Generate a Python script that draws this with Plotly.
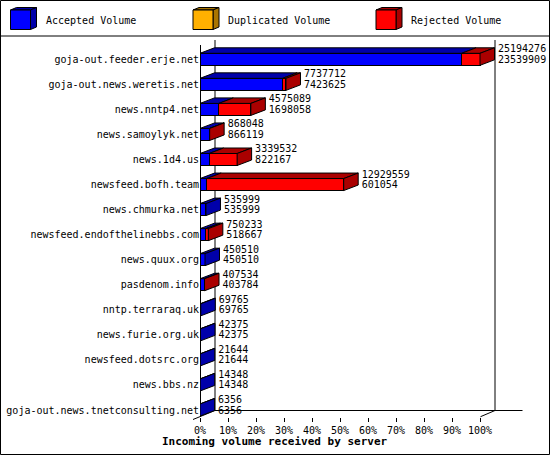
import plotly.graph_objects as go

# innreport-style chart: incoming volume per server
servers = [
    "goja-out.feeder.erje.net", "goja-out.news.weretis.net", "news.nntp4.net",
    "news.samoylyk.net", "news.1d4.us", "newsfeed.bofh.team", "news.chmurka.net",
    "newsfeed.endofthelinebbs.com", "news.quux.org", "pasdenom.info",
    "nntp.terraraq.uk", "news.furie.org.uk", "newsfeed.dotsrc.org", "news.bbs.nz",
    "goja-out.news.tnetconsulting.net",
]
total_volume = [25194276, 7737712, 4575089, 868048, 3339532, 12929559, 535999,
                750233, 450510, 407534, 69765, 42375, 21644, 14348, 6356]
accepted_volume = [23539909, 7423625, 1698058, 866119, 822167, 601054, 535999,
                   518667, 450510, 403784, 69765, 42375, 21644, 14348, 6356]
tick_labels = ["0%", "10%", "20%", "30%", "40%", "50%", "60%", "70%", "80%", "90%", "100%"]
legend_names = ["Accepted Volume", "Duplicated Volume", "Rejected Volume"]

rejected_volume = [t - a for t, a in zip(total_volume, accepted_volume)]

BLUE, DBLUE = "#0000ff", "#0000aa"
ORANGE, DORANGE = "#ffb000", "#aa7500"
RED, DRED = "#ff0000", "#aa0000"
FONT = "DejaVu Sans Mono"

W, H = 550, 455
L, R, T, B = 200, 525, 37, 417
VMAX = max(total_volume)
PX_PER_VAL = 280 / VMAX
ROW0, ROWH = 59.3, 25.05
DX = 14.5 / PX_PER_VAL      # depth in data units
DY = 5.5 / ROWH             # depth in row units
HALF = 6 / ROWH

rows = list(range(len(servers)))


def pxx(px):
    return (px - L) / (R - L)


def pyy(py):
    return (B - py) / (B - T)


def top_faces(starts, ends):
    xs, ys = [], []
    for r, (x0, x1) in enumerate(zip(starts, ends)):
        if x1 <= x0:
            continue
        top = r - HALF
        xs += [x0, x1, x1 + DX, x0 + DX, x0, None]
        ys += [top, top, top - DY, top - DY, top, None]
    return xs, ys


def side_faces(ends, keep):
    xs, ys = [], []
    for r, (x1, k) in enumerate(zip(ends, keep)):
        if not k:
            continue
        top, bot = r - HALF, r + HALF
        xs += [x1, x1 + DX, x1 + DX, x1, x1, None]
        ys += [top, top - DY, bot - DY, bot, top, None]
    return xs, ys


fig = go.Figure()

fig.add_trace(go.Bar(y=rows, x=accepted_volume, orientation="h", width=2 * HALF,
                     marker=dict(color=BLUE, line=dict(color="black", width=1))))
fig.add_trace(go.Bar(y=rows, x=rejected_volume, orientation="h", width=2 * HALF,
                     marker=dict(color=RED, line=dict(color="black", width=1))))

face_style = dict(mode="lines", fill="toself", line=dict(color="black", width=1),
                  hoverinfo="skip")
bx, by = top_faces([0] * len(rows), accepted_volume)
fig.add_trace(go.Scatter(x=bx, y=by, fillcolor=DBLUE, **face_style))
rx, ry = top_faces(accepted_volume, total_volume)
fig.add_trace(go.Scatter(x=rx, y=ry, fillcolor=DRED, **face_style))
sx, sy = side_faces(total_volume, [r == 0 for r in rejected_volume])
fig.add_trace(go.Scatter(x=sx, y=sy, fillcolor=DBLUE, **face_style))
sx, sy = side_faces(total_volume, [r > 0 for r in rejected_volume])
fig.add_trace(go.Scatter(x=sx, y=sy, fillcolor=DRED, **face_style))

label_x = [t + DX + 3.5 / PX_PER_VAL for t in total_volume]
fig.add_trace(go.Scatter(x=label_x, y=[r - 0.38 for r in rows], mode="text",
                         text=[str(v) for v in total_volume], textposition="middle right",
                         textfont=dict(family=FONT, size=10, color="black"),
                         cliponaxis=False, hoverinfo="skip"))
fig.add_trace(go.Scatter(x=label_x, y=[r + 0.04 for r in rows], mode="text",
                         text=[str(v) for v in accepted_volume], textposition="middle right",
                         textfont=dict(family=FONT, size=10, color="black"),
                         cliponaxis=False, hoverinfo="skip"))

# walls and floor of the 3D frame
line = dict(color="black", width=1)
shapes = [
    dict(type="line", xref="paper", yref="paper", x0=pxx(200.5), y0=pyy(45), x1=pxx(200.5), y1=pyy(416.7), line=line, layer="below"),
    dict(type="line", xref="paper", yref="paper", x0=pxx(215), y0=pyy(40), x1=pxx(215), y1=pyy(410.5), line=line, layer="below"),
    dict(type="line", xref="paper", yref="paper", x0=pxx(495), y0=pyy(40), x1=pxx(495), y1=pyy(410.5), line=line, layer="below"),
    dict(type="line", xref="paper", yref="paper", x0=pxx(215), y0=pyy(410.5), x1=pxx(522.5), y1=pyy(410.5), line=line, layer="below"),
    dict(type="line", xref="paper", yref="paper", x0=pxx(193), y0=pyy(419.5), x1=pxx(215), y1=pyy(410.5), line=line, layer="below"),
    dict(type="line", xref="paper", yref="paper", x0=pxx(480.5), y0=pyy(416.7), x1=pxx(495), y1=pyy(410.5), line=line, layer="below"),
    # legend separator and outer border
    dict(type="line", xref="paper", yref="paper", x0=pxx(0), y0=pyy(36), x1=pxx(550), y1=pyy(36), line=line),
    dict(type="rect", xref="paper", yref="paper", x0=pxx(0.5), y0=pyy(0.5), x1=pxx(549.5), y1=pyy(454.5), line=line),
]

annotations = []
for x0, name, front, dark in zip([10.5, 193, 376], legend_names,
                                 [BLUE, ORANGE, RED], [DBLUE, DORANGE, DRED]):
    def pt(x, y):
        return f"{pxx(x)},{pyy(y)}"
    shapes.append(dict(type="path", xref="paper", yref="paper", fillcolor=dark, line=line,
                       path=f"M{pt(x0, 10)} L{pt(x0 + 6, 7.5)} L{pt(x0 + 26, 7.5)} L{pt(x0 + 20, 10)} Z"))
    shapes.append(dict(type="path", xref="paper", yref="paper", fillcolor=dark, line=line,
                       path=f"M{pt(x0 + 20, 10)} L{pt(x0 + 26, 7.5)} L{pt(x0 + 26, 27)} L{pt(x0 + 20, 29.5)} Z"))
    shapes.append(dict(type="rect", xref="paper", yref="paper", fillcolor=front, line=line,
                       x0=pxx(x0), y0=pyy(10), x1=pxx(x0 + 20), y1=pyy(29.5)))
    annotations.append(dict(xref="paper", yref="paper", x=pxx(x0 + 33), y=pyy(20.5),
                            xanchor="left", yanchor="middle", showarrow=False, text=name,
                            font=dict(family=FONT, size=10, color="black")))

annotations.append(dict(xref="paper", yref="paper", x=pxx(275), y=pyy(441),
                        xanchor="center", yanchor="middle", showarrow=False,
                        text="<b>Incoming volume received by server</b>",
                        font=dict(family=FONT, size=11, color="black")))

fig.update_layout(
    width=W, height=H, barmode="stack", showlegend=False,
    margin=dict(l=L, r=W - R, t=T, b=H - B, pad=0),
    paper_bgcolor="white", plot_bgcolor="white",
    shapes=shapes, annotations=annotations,
    xaxis=dict(range=[0, VMAX * (R - L) / 280], tickvals=[VMAX * k / 10 for k in range(11)],
               ticktext=tick_labels, ticks="outside", ticklen=4, tickcolor="black",
               showgrid=False, zeroline=False, showline=False, automargin=False,
               tickfont=dict(family=FONT, size=10, color="black")),
    yaxis=dict(range=[(B - ROW0) / ROWH, (T - ROW0) / ROWH], tickvals=rows, ticktext=servers,
               ticks="", showgrid=False, zeroline=False, showline=False, automargin=False,
               tickfont=dict(family=FONT, size=10, color="black")),
)

# page body has an 8px default margin; drop it so the figure sits at the window corner
fig.write_html("out.html", config={"displayModeBar": False},
               post_script="document.body.style.margin = '0px';")
